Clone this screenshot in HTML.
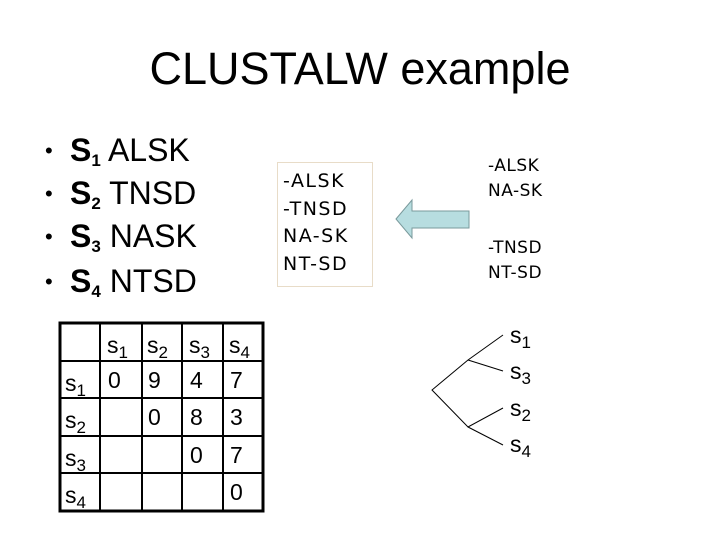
<!DOCTYPE html>
<html><head><style>
body{margin:0;width:720px;height:540px;background:#fff;position:relative;font-family:"Liberation Sans",sans-serif;overflow:hidden}
.a{position:absolute;white-space:nowrap}
.t{font-size:45px;left:0;width:720px;text-align:center;top:43px}
.b{font-size:32px;left:45px}
.b span.d{position:absolute;left:0;font-size:22px;top:6px}
.b span.x{position:absolute;left:25px}
sub{font-size:17px;vertical-align:-5px}
.m{font-family:"DejaVu Sans","Liberation Sans",sans-serif;font-size:19px;letter-spacing:1.5px}
.r{font-family:"DejaVu Sans","Liberation Sans",sans-serif;font-size:17px;letter-spacing:0.5px}
.c{font-size:23px}
</style></head><body>
<div class="a t">CLUSTALW example</div>
<div class="a b" style="top:132px"><span class="d">•</span><span class="x"><b>S<sub>1</sub></b> ALSK</span></div>
<div class="a b" style="top:175px"><span class="d">•</span><span class="x"><b>S<sub>2</sub></b> TNSD</span></div>
<div class="a b" style="top:218px"><span class="d">•</span><span class="x"><b>S<sub>3</sub></b> NASK</span></div>
<div class="a b" style="top:263px"><span class="d">•</span><span class="x"><b>S<sub>4</sub></b> NTSD</span></div>

<div class="a" style="left:277px;top:162px;width:94px;height:123px;border:1px solid #e8dcc8"></div>
<div class="a m" style="left:283px;top:168px;line-height:27.5px">-ALSK<br>-TNSD<br>NA-SK<br>NT-SD</div>
<div class="a r" style="left:488px;top:154px;line-height:25px">-ALSK<br>NA-SK</div>
<div class="a r" style="left:488px;top:236px;line-height:25px">-TNSD<br>NT-SD</div>

<svg class="a" style="left:0;top:0" width="720" height="540">
<polygon points="396,219 412,200 412,211 469,211 469,228 412,228 412,238" fill="#b7dde0" stroke="#7a9a9c" stroke-width="1"/>
<g stroke="#000" stroke-width="3" fill="none">
<rect x="60" y="323" width="203" height="188"/>
</g>
<g stroke="#000" stroke-width="2">
<line x1="100" y1="323" x2="100" y2="511"/><line x1="142" y1="323" x2="142" y2="511"/>
<line x1="182" y1="323" x2="182" y2="511"/><line x1="223" y1="323" x2="223" y2="511"/>
<line x1="60" y1="361" x2="263" y2="361"/><line x1="60" y1="398" x2="263" y2="398"/>
<line x1="60" y1="436" x2="263" y2="436"/><line x1="60" y1="473" x2="263" y2="473"/>
</g>
<g stroke="#000" stroke-width="1" fill="none">
<polyline points="503,335 468,360 432,390 468,427 503,408"/>
<line x1="468" y1="360" x2="503" y2="371"/>
<line x1="468" y1="427" x2="503" y2="445"/>
</g>
</svg>

<div class="a c" style="left:107px;top:332px">s<sub>1</sub></div>
<div class="a c" style="left:147px;top:332px">s<sub>2</sub></div>
<div class="a c" style="left:189px;top:332px">s<sub>3</sub></div>
<div class="a c" style="left:229px;top:332px">s<sub>4</sub></div>
<div class="a c" style="left:65px;top:370px">s<sub>1</sub></div>
<div class="a c" style="left:65px;top:407px">s<sub>2</sub></div>
<div class="a c" style="left:65px;top:445px">s<sub>3</sub></div>
<div class="a c" style="left:65px;top:482px">s<sub>4</sub></div>
<div class="a c" style="left:108px;top:367px">0</div>
<div class="a c" style="left:148px;top:367px">9</div>
<div class="a c" style="left:190px;top:367px">4</div>
<div class="a c" style="left:230px;top:367px">7</div>
<div class="a c" style="left:148px;top:404px">0</div>
<div class="a c" style="left:190px;top:404px">8</div>
<div class="a c" style="left:230px;top:404px">3</div>
<div class="a c" style="left:190px;top:442px">0</div>
<div class="a c" style="left:230px;top:442px">7</div>
<div class="a c" style="left:230px;top:479px">0</div>

<div class="a c" style="left:510px;top:322px">s<sub>1</sub></div>
<div class="a c" style="left:510px;top:358px">s<sub>3</sub></div>
<div class="a c" style="left:510px;top:395px">s<sub>2</sub></div>
<div class="a c" style="left:510px;top:431px">s<sub>4</sub></div>
</body></html>
